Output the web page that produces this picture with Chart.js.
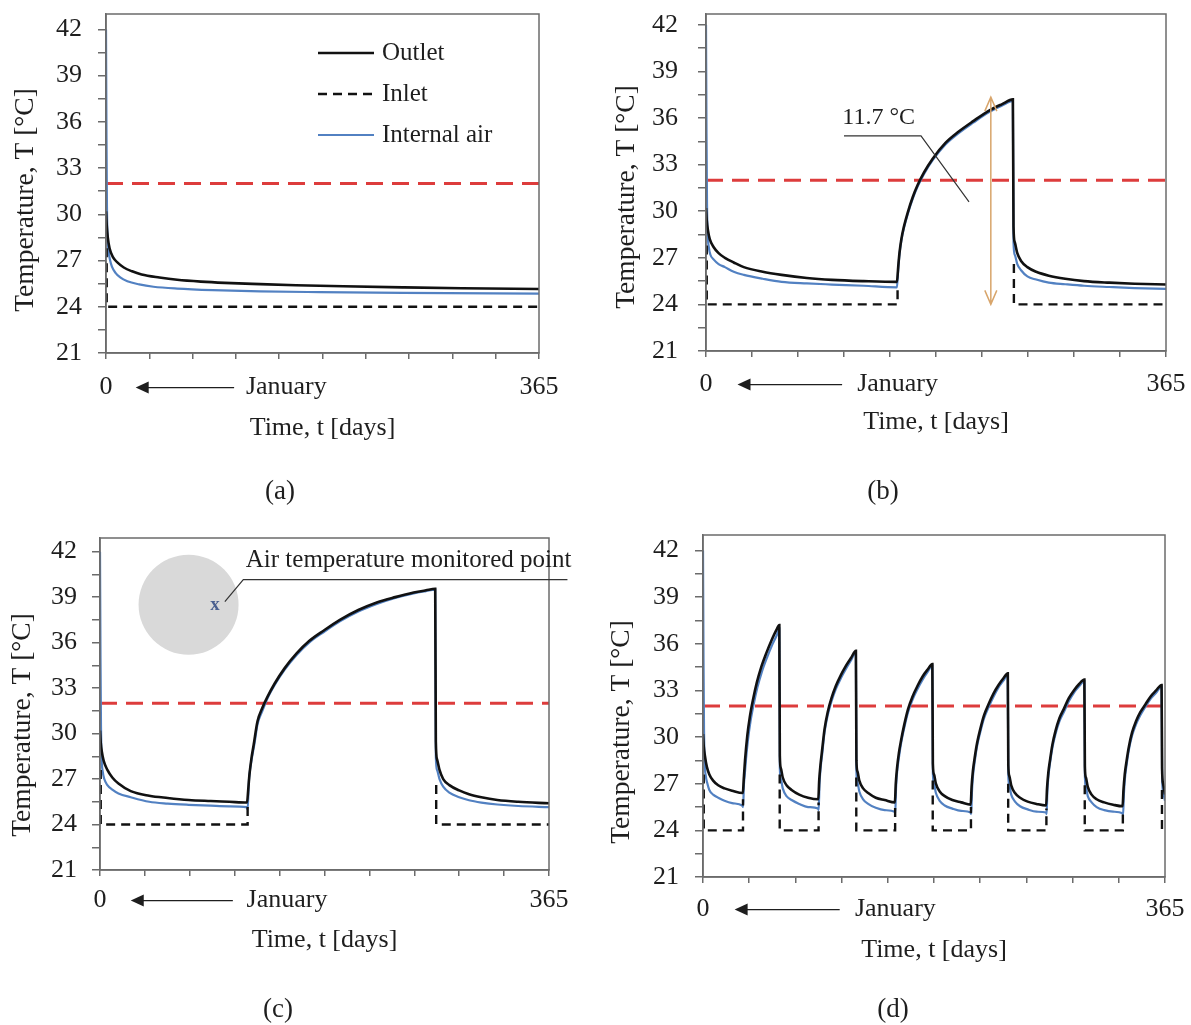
<!DOCTYPE html>
<html>
<head>
<meta charset="utf-8">
<title>Temperature over one year</title>
<script src="https://cdn.jsdelivr.net/npm/chart.js@4.4.1/dist/chart.umd.min.js"></script>
<style>
  body { margin: 0; background: #fff; }
  #wrap { position: relative; width: 1191px; height: 1025px; overflow: hidden; }
  #wrap canvas { position: absolute; }
</style>
</head>
<body>
<div id="wrap">
  <canvas id="pa" width="595" height="520" style="left:0;top:0"></canvas>
  <canvas id="pb" width="595" height="520" style="left:596px;top:0"></canvas>
  <canvas id="pc" width="595" height="505" style="left:0;top:520px"></canvas>
  <canvas id="pd" width="595" height="505" style="left:596px;top:520px"></canvas>
</div>
<script>
// ---- values (day of year, °C) ----
const LIMIT_DAY = [0, 365];
const LIMIT_T = [32, 32];

// (a) ventilation all year
const A_OUT_DAY = [0, 0.6, 1.5, 3, 6, 10, 15, 22, 30, 45, 60, 80, 100, 130, 160, 200, 250, 300, 365];
const A_OUT_T = [30.2, 29.3, 28.5, 27.8, 27.2, 26.85, 26.55, 26.3, 26.1, 25.9, 25.75, 25.63, 25.55, 25.47, 25.4, 25.33, 25.26, 25.2, 25.15];
const A_AIR_DAY = [0, 0.4, 0.8, 1.3, 2.2, 3.5, 5, 8, 12, 18, 28, 40, 60, 90, 130, 180, 250, 365];
const A_AIR_T = [42, 35, 30.5, 28.6, 27.6, 27.0, 26.6, 26.2, 25.9, 25.65, 25.45, 25.3, 25.18, 25.08, 25.0, 24.95, 24.9, 24.85];
const A_IN_DAY = [0.6, 0.6, 365];
const A_IN_T = [27.8, 24, 24];

// (b) off June-August
const B_OUT_DAY = [0, 0.6, 1.5, 3, 6, 10, 15, 22, 30, 45, 60, 80, 100, 125, 151.5,
  152.5, 153.5, 155, 157, 160, 164, 168, 173, 180, 190, 200, 212, 225, 235, 243.5,
  244, 245, 247, 250, 255, 262, 272, 285, 300, 320, 340, 365];
const B_OUT_T = [30.2, 29.4, 28.8, 28.2, 27.7, 27.3, 27.0, 26.7, 26.4, 26.1, 25.9, 25.7, 25.58, 25.5, 25.45,
  26.4, 27.3, 28.2, 29.0, 29.9, 30.9, 31.7, 32.5, 33.4, 34.4, 35.1, 35.8, 36.5, 36.9, 37.2,
  29.0, 28.0, 27.3, 26.8, 26.4, 26.1, 25.85, 25.65, 25.5, 25.4, 25.33, 25.28];
const B_AIR_DAY = [0, 0.4, 0.8, 1.3, 2.2, 3.5, 6, 10, 15, 22, 30, 45, 60, 80, 100, 125, 151.5,
  152.5, 153.5, 155, 157, 160, 164, 168, 173, 180, 190, 200, 212, 225, 235, 243.5,
  244, 245, 247, 250, 255, 262, 272, 285, 300, 320, 340, 365];
const B_AIR_T = [42, 35, 30.5, 28.6, 27.7, 27.2, 26.9, 26.6, 26.4, 26.1, 25.9, 25.65, 25.45, 25.35, 25.28, 25.2, 25.1,
  26.2, 27.2, 28.1, 28.9, 29.8, 30.8, 31.6, 32.4, 33.3, 34.3, 35.0, 35.7, 36.4, 36.8, 37.1,
  28.0, 27.2, 26.6, 26.2, 25.8, 25.6, 25.4, 25.3, 25.2, 25.12, 25.05, 25.0];
const B_IN_DAY = [0.6, 0.6, 152, 152, 200, 244.3, 244.3, 365];
const B_IN_T = [27.8, 24, 24, 25.3, null, 26.6, 24, 24];

// (c) off May-September
const C_OUT_DAY = [0, 0.6, 1.5, 3, 6, 10, 15, 25, 40, 55, 72, 90, 105, 119.5,
  120.5, 121.5, 123, 125, 128, 132, 136, 142, 150, 160, 170, 182, 195, 210, 225, 240, 255, 265, 272.5,
  273, 274, 276, 279, 284, 292, 300, 310, 323, 340, 365];
const C_OUT_T = [30.2, 29.4, 28.8, 28.2, 27.6, 27.1, 26.7, 26.2, 25.9, 25.75, 25.62, 25.55, 25.5, 25.45,
  26.3, 27.3, 28.3, 29.3, 30.8, 31.7, 32.4, 33.3, 34.3, 35.3, 36.1, 36.8, 37.5, 38.15, 38.65, 39.0, 39.3, 39.45, 39.55,
  29.5, 28.3, 27.6, 27.0, 26.6, 26.25, 26.0, 25.8, 25.62, 25.5, 25.4];
const C_AIR_DAY = [0, 0.4, 0.8, 1.3, 2.2, 3.5, 6, 10, 15, 25, 40, 55, 72, 90, 105, 119, 120,
  121, 122, 123.5, 125.5, 128, 132, 136, 142, 150, 160, 170, 182, 195, 210, 225, 240, 255, 265, 272.5,
  273, 274, 276, 279, 284, 292, 300, 310, 323, 340, 365];
const C_AIR_T = [42, 35, 30.5, 28.4, 27.5, 27.0, 26.6, 26.3, 26.05, 25.8, 25.5, 25.38, 25.3, 25.24, 25.2, 25.15, 25.0,
  26.8, 27.6, 28.4, 29.3, 30.6, 31.5, 32.3, 33.2, 34.2, 35.2, 36.0, 36.7, 37.4, 38.05, 38.55, 38.95, 39.25, 39.4, 39.5,
  28.5, 27.6, 27.0, 26.5, 26.1, 25.8, 25.6, 25.45, 25.32, 25.22, 25.15];
const C_IN_DAY = [0.6, 0.6, 120, 120, 200, 273.3, 273.3, 365];
const C_IN_T = [27.6, 24, 24, 25.2, null, 26.6, 24, 24];

// (d) one month on, one month off
const D_OUT_DAY = [0, 0.6, 1.5, 3, 5, 8, 12, 17, 23, 31.5,
  32.2, 33.2, 35, 37, 39.5, 42.5, 46, 50, 54, 58, 60.3,
  60.7, 61.5, 63, 66, 70, 76, 83, 91.1,
  91.8, 92.8, 94.3, 96, 98.5, 101.5, 105, 109, 113, 117, 120.8,
  121.2, 122, 123.5, 126.5, 130.5, 136.5, 143.5, 151.6,
  152.3, 153.3, 154.8, 156.5, 159, 162, 165.5, 169.5, 173.5, 177.5, 181.2,
  181.6, 182.5, 184, 187, 191, 197, 204, 211.5,
  212.2, 213.2, 214.7, 216.5, 219, 222, 225.5, 229.5, 233.5, 237.5, 240.8,
  241.2, 242, 243.5, 246.5, 250.5, 256.5, 263.5, 271.1,
  271.8, 272.8, 274.3, 276, 278.5, 281.5, 285, 289, 293, 297, 301.3,
  301.7, 302.5, 304, 307, 311, 317, 324, 331.5,
  332.2, 333.2, 334.7, 336.5, 339, 342, 345.5, 349.5, 353.5, 358, 362.3,
  362.7, 363.5, 365];
const D_OUT_T = [30.2, 29.4, 28.8, 28.1, 27.6, 27.2, 26.9, 26.7, 26.55, 26.4,
  27.3, 28.5, 30.1, 31.3, 32.4, 33.5, 34.5, 35.4, 36.2, 36.9, 37.2,
  28.8, 28.0, 27.4, 26.9, 26.6, 26.3, 26.1, 26.0,
  27.2, 28.2, 29.3, 30.5, 31.6, 32.5, 33.3, 34.0, 34.6, 35.1, 35.55,
  28.5, 27.8, 27.2, 26.7, 26.4, 26.1, 25.95, 25.8,
  27.0, 28.0, 29.0, 29.8, 30.8, 31.8, 32.6, 33.3, 33.9, 34.35, 34.7,
  28.3, 27.6, 27.0, 26.5, 26.2, 25.95, 25.8, 25.65,
  26.8, 27.8, 28.7, 29.6, 30.5, 31.4, 32.1, 32.8, 33.35, 33.8, 34.1,
  28.2, 27.5, 26.9, 26.4, 26.1, 25.85, 25.7, 25.6,
  26.7, 27.7, 28.6, 29.5, 30.4, 31.2, 31.8, 32.5, 33.0, 33.4, 33.7,
  28.1, 27.4, 26.8, 26.3, 26.0, 25.8, 25.65, 25.55,
  26.6, 27.6, 28.5, 29.4, 30.3, 31.0, 31.6, 32.1, 32.6, 33.0, 33.35,
  28.0, 27.0, 26.3];
const D_AIR_DAY = [0, 0.4, 0.8, 1.3, 2.2, 3.5, 5, 8, 12, 17, 23, 31, 31.7,
  32.3, 33, 34, 35.5, 37.5, 40, 43, 46.5, 50.5, 54.5, 58.5, 60.3,
  60.7, 61.5, 63, 66, 70, 76, 83, 91, 91.4,
  92, 92.8, 94.3, 96, 98.5, 101.5, 105, 109, 113, 117, 120.8,
  121.2, 122, 123.5, 126.5, 130.5, 136.5, 143.5, 151.5, 151.9,
  152.5, 153.3, 154.8, 156.5, 159, 162, 165.5, 169.5, 173.5, 177.5, 181.2,
  181.6, 182.5, 184, 187, 191, 197, 204, 211.5, 211.9,
  212.5, 213.3, 214.8, 216.5, 219, 222, 225.5, 229.5, 233.5, 237.5, 240.8,
  241.2, 242, 243.5, 246.5, 250.5, 256.5, 263.5, 271.1, 271.5,
  272, 272.8, 274.3, 276, 278.5, 281.5, 285, 289, 293, 297, 301.3,
  301.7, 302.5, 304, 307, 311, 317, 324, 331.5, 331.9,
  332.5, 333.3, 334.8, 336.5, 339, 342, 345.5, 349.5, 353.5, 358, 362.3,
  362.7, 363.5, 365];
const D_AIR_T = [42, 35, 30.5, 28.4, 27.5, 27.0, 26.6, 26.3, 26.1, 25.9, 25.75, 25.6, 25.5,
  26.9, 27.6, 28.6, 29.8, 31.0, 32.1, 33.2, 34.2, 35.1, 35.9, 36.6, 37.0,
  28.0, 27.3, 26.7, 26.2, 25.95, 25.7, 25.5, 25.4, 25.3,
  26.9, 27.9, 29.0, 30.3, 31.4, 32.3, 33.1, 33.8, 34.4, 34.95, 35.45,
  27.8, 27.1, 26.5, 26.0, 25.7, 25.45, 25.3, 25.2, 25.1,
  26.7, 27.7, 28.7, 29.6, 30.6, 31.6, 32.4, 33.1, 33.7, 34.2, 34.6,
  27.7, 27.0, 26.4, 25.9, 25.6, 25.4, 25.25, 25.15, 25.05,
  26.5, 27.5, 28.5, 29.4, 30.3, 31.2, 31.9, 32.6, 33.2, 33.65, 34.0,
  27.6, 26.9, 26.3, 25.85, 25.55, 25.35, 25.2, 25.15, 25.05,
  26.4, 27.4, 28.4, 29.3, 30.2, 31.0, 31.6, 32.3, 32.85, 33.25, 33.6,
  27.5, 26.8, 26.2, 25.8, 25.5, 25.3, 25.2, 25.1, 25.0,
  26.3, 27.3, 28.3, 29.2, 30.1, 30.8, 31.4, 31.95, 32.45, 32.85, 33.25,
  27.5, 26.5, 25.9];
const D_IN_DAY = [0.6, 0.6, 31.6, 31.6, 45, 60.6, 60.6, 91.3, 91.3, 105, 121.1, 121.1, 151.8, 151.8, 165,
  181.5, 181.5, 211.7, 211.7, 225, 241.1, 241.1, 271.3, 271.3, 285, 301.6, 301.6, 331.7, 331.7, 345, 362.6, 362.6, 365];
const D_IN_T = [27.6, 24, 24, 26.0, null, 27.6, 24, 24, 25.8, null, 27.4, 24, 24, 25.6, null,
  27.2, 24, 24, 25.5, null, 27.0, 24, 24, 25.4, null, 26.9, 24, 24, 25.4, null, 26.6, 24, 24];

// annotations, in axis units
const START_NOTE = 'January';
const START_NOTE_DAY = 152;
const START_ARROW = [108, 25];       // tail day, head day
const B_NOTE = '11.7 °C';
const B_NOTE_AT = [137, 36.05];
const B_LEADER = [[109.5, 34.85], [170.6, 34.85], [208.7, 30.6]];
const B_SPAN = [226, 24.0, 37.35];  // day, low, high
const C_NOTE = 'Air temperature monitored point';
const C_NOTE_AT = [118.5, 41.45];
const C_DISC = [72, 38.5];
const C_MARK = [93.5, 38.45];
const C_LEADER = [[101.5, 38.7], [116.5, 40.15], [380, 40.15]];

const Y_TITLE = 'Temperature, T [°C]';
const X_TITLE = 'Time, t [days]';

const FONT = '"Liberation Serif", "Times New Roman", serif';
const INK = '#1e1e1e';
const AXIS = '#6b6b6b';
const X_TICK_LEN = 6;
const Y_TICK_LEN = 8;

Chart.defaults.font.family = FONT;
Chart.defaults.color = INK;

const pts = (xs, ys) => xs.map((x, i) => ({ x, y: ys[i] }));

function seriesFor(p) {
  // first dataset is painted last, so the outlet sits on top
  return [
    { label: 'Outlet', data: pts(p.outDay, p.outT), borderColor: '#111', borderWidth: 2.6, cubicInterpolationMode: 'monotone' },
    { label: 'Inlet', data: pts(p.inDay, p.inT), borderColor: '#111', borderWidth: 2.4, borderDash: [9, 6], spanGaps: false },
    { label: 'Internal air', data: pts(p.airDay, p.airT), borderColor: '#5281c2', borderWidth: 2.2, cubicInterpolationMode: 'monotone' },
    { label: '32 °C', data: pts(LIMIT_DAY, LIMIT_T), borderColor: '#dd3c3c', borderWidth: 3, borderDash: [17, 9] }
  ];
}

function legendA(chart, ctx) {
  const a = chart.chartArea;
  chart.data.datasets.slice(0, 3).forEach((ds, i) => {
    const yy = a.top + 39 + i * 41;
    ctx.strokeStyle = ds.borderColor;
    ctx.lineWidth = ds.borderWidth;
    ctx.setLineDash(ds.borderDash || []);
    ctx.beginPath();
    ctx.moveTo(a.left + 212, yy);
    ctx.lineTo(a.left + 268, yy);
    ctx.stroke();
    ctx.setLineDash([]);
    ctx.fillStyle = INK;
    ctx.font = `25px ${FONT}`;
    ctx.textAlign = 'left';
    ctx.textBaseline = 'middle';
    ctx.fillText(ds.label, a.left + 276, yy);
  });
}

function noteB(chart, ctx) {
  const { x, y } = chart.scales;
  const px = d => x.getPixelForValue(d), py = t => y.getPixelForValue(t);
  ctx.fillStyle = INK;
  ctx.font = `24px ${FONT}`;
  ctx.textAlign = 'center';
  ctx.textBaseline = 'middle';
  ctx.fillText(B_NOTE, px(B_NOTE_AT[0]), py(B_NOTE_AT[1]));
  ctx.strokeStyle = '#333';
  ctx.lineWidth = 1.2;
  ctx.beginPath();
  B_LEADER.forEach(([d, t], i) => i ? ctx.lineTo(px(d), py(t)) : ctx.moveTo(px(d), py(t)));
  ctx.stroke();

  const ax = px(B_SPAN[0]), y0 = py(B_SPAN[1]), y1 = py(B_SPAN[2]);
  ctx.strokeStyle = '#d8a56b';
  ctx.lineWidth = 1.5;
  ctx.beginPath();
  ctx.moveTo(ax, y0); ctx.lineTo(ax, y1);
  ctx.moveTo(ax - 6, y1 + 14); ctx.lineTo(ax, y1); ctx.lineTo(ax + 6, y1 + 14);
  ctx.moveTo(ax - 6, y0 - 14); ctx.lineTo(ax, y0); ctx.lineTo(ax + 6, y0 - 14);
  ctx.stroke();
}

function sensorC(chart, ctx) {
  const { x, y } = chart.scales;
  const px = d => x.getPixelForValue(d), py = t => y.getPixelForValue(t);
  ctx.fillStyle = '#d9d9d9';
  ctx.beginPath();
  ctx.arc(px(C_DISC[0]), py(C_DISC[1]), 50, 0, Math.PI * 2);
  ctx.fill();
  ctx.fillStyle = '#4a5f8f';
  ctx.font = `bold 19px ${FONT}`;
  ctx.textAlign = 'center';
  ctx.textBaseline = 'middle';
  ctx.fillText('x', px(C_MARK[0]), py(C_MARK[1]));
  ctx.strokeStyle = '#333';
  ctx.lineWidth = 1.2;
  ctx.beginPath();
  C_LEADER.forEach(([d, t], i) => i ? ctx.lineTo(px(d), py(t)) : ctx.moveTo(px(d), py(t)));
  ctx.stroke();
  ctx.fillStyle = INK;
  ctx.font = `25px ${FONT}`;
  ctx.textAlign = 'left';
  ctx.fillText(C_NOTE, px(C_NOTE_AT[0]), py(C_NOTE_AT[1]));
}

function makeDecor(p) {
  return {
    id: 'decor',
    afterDraw(chart) {
      const { ctx, chartArea: a, scales: { x } } = chart;
      ctx.save();
      // plot frame
      ctx.strokeStyle = AXIS;
      ctx.lineWidth = 1.5;
      ctx.strokeRect(a.left, a.top, a.right - a.left, a.bottom - a.top);

      ctx.fillStyle = INK;
      ctx.textAlign = 'center';
      ctx.textBaseline = 'middle';
      // y title (drawn here so it can sit a bit below the plot centre, as in the figure)
      ctx.save();
      ctx.translate(p.yTitleAt[0], p.yTitleAt[1]);
      ctx.rotate(-Math.PI / 2);
      ctx.font = `27.5px ${FONT}`;
      ctx.fillText(Y_TITLE, 0, 0);
      ctx.restore();

      // "0 <---- January" on the tick label row
      const rowY = x.top + X_TICK_LEN + p.xTickPad + 26 * 1.2 / 2;
      ctx.font = `26px ${FONT}`;
      ctx.fillText(START_NOTE, x.getPixelForValue(START_NOTE_DAY), rowY);
      const tail = x.getPixelForValue(START_ARROW[0]);
      const head = x.getPixelForValue(START_ARROW[1]);
      ctx.strokeStyle = INK;
      ctx.lineWidth = 1.4;
      ctx.beginPath();
      ctx.moveTo(tail, rowY);
      ctx.lineTo(head + 8, rowY);
      ctx.stroke();
      ctx.beginPath();
      ctx.moveTo(head, rowY);
      ctx.lineTo(head + 13, rowY - 6);
      ctx.lineTo(head + 13, rowY + 6);
      ctx.closePath();
      ctx.fill();

      ctx.font = `27px ${FONT}`;
      ctx.fillText(p.tag, p.tagAt[0], p.tagAt[1]);

      if (p.extra) p.extra(chart, ctx);
      ctx.restore();
    }
  };
}

const PANELS = [
  { id: 'pa', tag: '(a)', outDay: A_OUT_DAY, outT: A_OUT_T, airDay: A_AIR_DAY, airT: A_AIR_T, inDay: A_IN_DAY, inT: A_IN_T,
    yMax: 43, box: { top: 14, right: 56, yW: 106, xH: 167 }, yTickPad: 16, xTickPad: 13, xTitlePad: 76,
    yTitleAt: [26, 200], tagAt: [280, 492], extra: legendA },
  { id: 'pb', tag: '(b)', outDay: B_OUT_DAY, outT: B_OUT_T, airDay: B_AIR_DAY, airT: B_AIR_T, inDay: B_IN_DAY, inT: B_IN_T,
    yMax: 42.7, box: { top: 14, right: 25, yW: 110, xH: 169 }, yTickPad: 20, xTickPad: 12, xTitlePad: 82,
    yTitleAt: [31, 197], tagAt: [287, 492], extra: noteB },
  { id: 'pc', tag: '(c)', outDay: C_OUT_DAY, outT: C_OUT_T, airDay: C_AIR_DAY, airT: C_AIR_T, inDay: C_IN_DAY, inT: C_IN_T,
    yMax: 42.9, box: { top: 18, right: 46, yW: 100, xH: 155 }, yTickPad: 15, xTickPad: 9, xTitlePad: 69,
    yTitleAt: [23, 205], tagAt: [278, 490], extra: sensorC },
  { id: 'pd', tag: '(d)', outDay: D_OUT_DAY, outT: D_OUT_T, airDay: D_AIR_DAY, airT: D_AIR_T, inDay: D_IN_DAY, inT: D_IN_T,
    yMax: 43, box: { top: 15, right: 26, yW: 107, xH: 148 }, yTickPad: 16, xTickPad: 11, xTitlePad: 59,
    yTitleAt: [26, 212], tagAt: [297, 490], extra: null }
];

function drawPanel(p) {
  const tickFont = { family: FONT, size: 26 };
  const axisGrid = { drawOnChartArea: false, drawTicks: true, color: AXIS, lineWidth: 1.5 };
  new Chart(document.getElementById(p.id), {
    type: 'line',
    data: { datasets: seriesFor(p) },
    options: {
      responsive: false,
      animation: false,
      events: [],
      layout: { padding: { top: p.box.top, right: p.box.right, left: 0, bottom: 0 }, autoPadding: false },
      elements: { point: { radius: 0 }, line: { tension: 0 } },
      plugins: { legend: { display: false }, tooltip: { enabled: false } },
      scales: {
        x: {
          type: 'linear', min: 0, max: 365,
          grid: { ...axisGrid, tickLength: X_TICK_LEN },
          border: { display: true, color: AXIS, width: 1.5 },
          ticks: {
            stepSize: 36.5, includeBounds: false, autoSkip: false, maxRotation: 0,
            padding: p.xTickPad, font: tickFont, color: INK,
            callback: v => (v === 0 || v === 365) ? String(v) : ''
          },
          title: { display: true, text: X_TITLE, font: { family: FONT, size: 26 }, color: INK, padding: { top: 0, bottom: p.xTitlePad } },
          afterFit: s => { s.height = p.box.xH; s.paddingLeft = 0; s.paddingRight = 0; }
        },
        y: {
          type: 'linear', min: 21, max: p.yMax,
          grid: { ...axisGrid, tickLength: Y_TICK_LEN },
          border: { display: true, color: AXIS, width: 1.5 },
          ticks: {
            stepSize: 1.5, includeBounds: false, autoSkip: false,
            padding: p.yTickPad, font: tickFont, color: INK,
            callback: v => Math.abs(v % 3) < 1e-6 ? String(v) : ''
          },
          afterFit: s => { s.width = p.box.yW; s.paddingTop = 0; s.paddingBottom = 0; }
        }
      }
    },
    plugins: [makeDecor(p)]
  });
}

PANELS.forEach(drawPanel);
</script>
</body>
</html>
